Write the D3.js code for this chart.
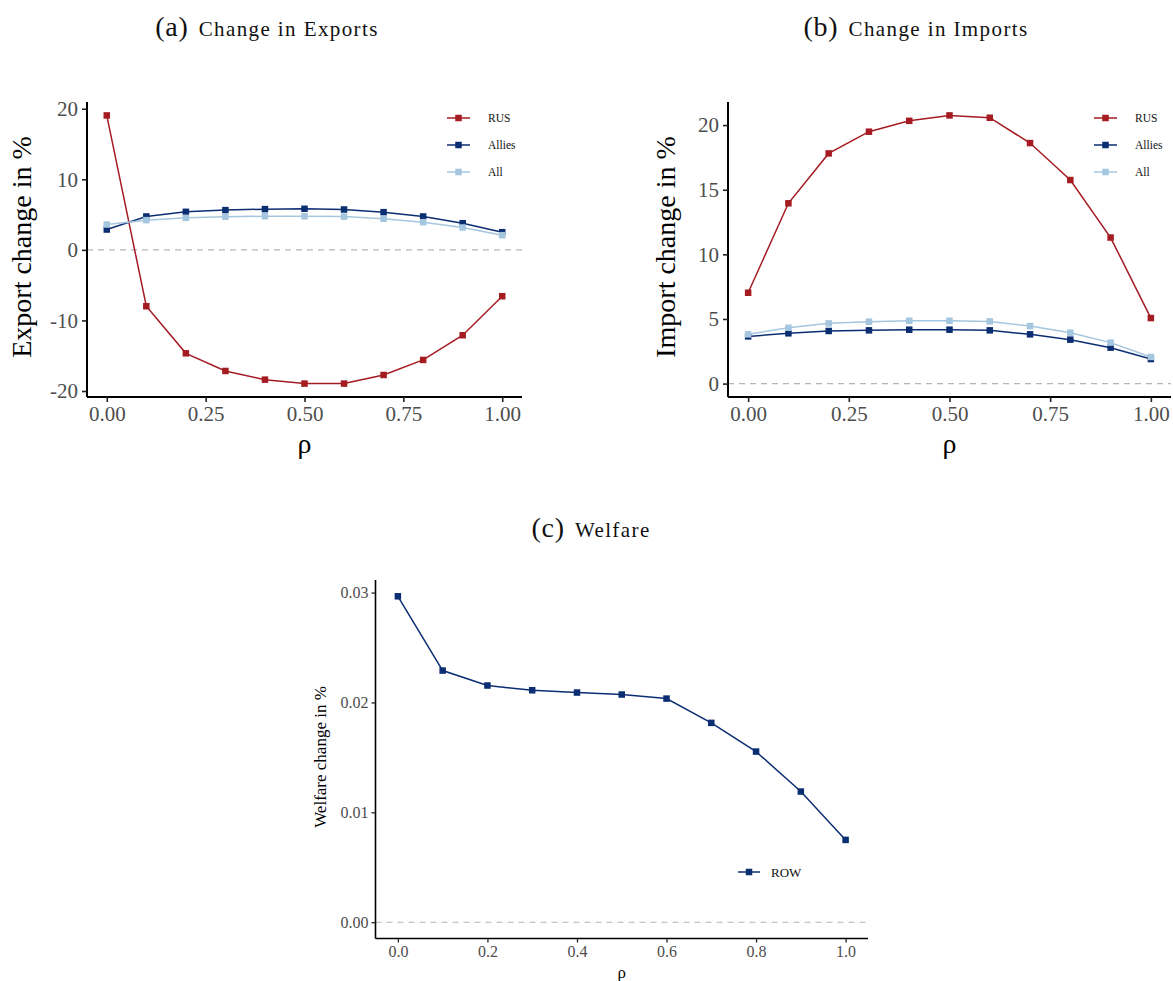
<!DOCTYPE html>
<html><head><meta charset="utf-8">
<script src="https://cdn.jsdelivr.net/npm/d3@7"></script>
<style>body{margin:0;background:#fff}svg{display:block}</style>
</head><body>
<script>
// ---- data ----
const rho = [0, 0.1, 0.2, 0.3, 0.4, 0.5, 0.6, 0.7, 0.8, 0.9, 1.0];
const seriesNames = ["RUS", "Allies", "All"];
const exportRUS = [19.05, -7.99, -14.66, -17.16, -18.39, -18.95, -18.95, -17.73, -15.6, -12.1, -6.57];
const exportAllies = [2.88, 4.73, 5.39, 5.63, 5.77, 5.82, 5.72, 5.34, 4.73, 3.78, 2.5];
const exportAll = [3.59, 4.21, 4.54, 4.7, 4.76, 4.76, 4.71, 4.4, 3.92, 3.17, 2.08];
const importRUS = [7.03, 13.95, 17.81, 19.49, 20.33, 20.75, 20.57, 18.61, 15.75, 11.3, 5.07];
const importAllies = [3.65, 3.89, 4.07, 4.12, 4.17, 4.17, 4.12, 3.81, 3.4, 2.78, 1.9];
const importAll = [3.81, 4.32, 4.66, 4.79, 4.86, 4.86, 4.81, 4.45, 3.94, 3.17, 2.06];
const welfareROW = [0.02966, 0.0229, 0.02154, 0.02111, 0.0209, 0.02072, 0.02035, 0.01814, 0.01553, 0.01189, 0.00749];
const ticksA_y = [-20, -10, 0, 10, 20];
const ticksB_y = [0, 5, 10, 15, 20];
const ticksC_y = [0, 0.01, 0.02, 0.03];
const ticksAB_x = [0, 0.25, 0.5, 0.75, 1];
const ticksC_x = [0, 0.2, 0.4, 0.6, 0.8, 1.0];

const colors = {RUS: "#a51b22", Allies: "#0b2e72", All: "#a5c6df", ROW: "#0b2e72"};
const serif = "'Liberation Serif','Times New Roman',serif";

const svg = d3.select("body").append("svg").attr("width", 1173).attr("height", 981);

function panel(o) {
  const g = svg.append("g");
  const allVals = o.series.flatMap(s => s.values).concat([0]);
  const ymin = d3.min(allVals), ymax = d3.max(allVals), yr = ymax - ymin;
  const x = d3.scaleLinear().domain([-0.05, 1.05]).range([o.left, o.right]);
  const y = d3.scaleLinear().domain([ymin - 0.05 * yr, ymax + 0.05 * yr]).range([o.bottom, o.top]);

  // zero line
  g.append("line").attr("x1", o.left).attr("x2", o.right)
    .attr("y1", y(0)).attr("y2", y(0))
    .attr("stroke", "#b5b5b5").attr("stroke-width", 1.1).attr("stroke-dasharray", "6,5");

  // series
  const line = d3.line().x((d, i) => x(rho[i])).y(d => y(d));
  o.series.forEach(s => {
    g.append("path").datum(s.values).attr("d", line)
      .attr("fill", "none").attr("stroke", colors[s.name]).attr("stroke-width", o.lw);
    g.selectAll(null).data(s.values).enter().append("rect")
      .attr("x", (d, i) => x(rho[i]) - o.ms / 2).attr("y", d => y(d) - o.ms / 2)
      .attr("width", o.ms).attr("height", o.ms).attr("fill", colors[s.name]);
  });

  // axes
  const xa = g.append("g").attr("transform", `translate(0,${o.bottom})`)
    .call(d3.axisBottom(x).tickValues(o.xticks).tickFormat(o.xfmt).tickSize(o.tick).tickSizeOuter(0).tickPadding(o.pad));
  const ya = g.append("g").attr("transform", `translate(${o.left},0)`)
    .call(d3.axisLeft(y).tickValues(o.yticks).tickFormat(o.yfmt).tickSize(o.tick).tickSizeOuter(0).tickPadding(o.pad));
  [xa, ya].forEach(a => {
    a.select(".domain").attr("stroke", "#000").attr("stroke-width", o.axw);
    a.selectAll(".tick line").attr("stroke", "#222").attr("stroke-width", o.axw * 0.8);
    a.selectAll("text").attr("font-family", serif).attr("font-size", o.tickfs).attr("fill", "#4d4d4d");
  });
  xa.select(".domain").attr("d", `M${o.left},0H${o.right}`);
  ya.select(".domain").attr("d", `M0,${o.bottom}V${o.top}`);

  // labels
  g.append("text").attr("x", (o.left + o.right) / 2).attr("y", o.xlabY)
    .attr("text-anchor", "middle").attr("font-family", serif).attr("font-size", o.labfs).text("ρ");
  g.append("text").attr("transform", `translate(${o.ylabX},${o.ylabY}) rotate(-90)`)
    .attr("text-anchor", "middle").attr("font-family", serif).attr("font-size", o.labfs).text(o.ylab);

  // title
  const t = svg.append("text").attr("x", o.titleX).attr("y", o.titleY).attr("text-anchor", "middle")
    .attr("font-family", serif).attr("fill", "#111");
  t.append("tspan").attr("font-size", 28).attr("letter-spacing", 0.8).text(o.tag);
  t.append("tspan").attr("font-size", 21).attr("dx", 10).attr("letter-spacing", 1.4).text(o.title);

  // legend
  o.series.forEach((s, i) => {
    const ly = o.legY + i * o.legGap;
    g.append("line").attr("x1", o.legX).attr("x2", o.legX + o.legW).attr("y1", ly).attr("y2", ly)
      .attr("stroke", colors[s.name]).attr("stroke-width", o.lw);
    g.append("rect").attr("x", o.legX + o.legW / 2 - o.ms / 2).attr("y", ly - o.ms / 2)
      .attr("width", o.ms).attr("height", o.ms).attr("fill", colors[s.name]);
    g.append("text").attr("x", o.legX + o.legW + o.legTx).attr("y", ly + o.legfs * 0.35)
      .attr("font-family", serif).attr("font-size", o.legfs).attr("fill", "#111").text(s.name);
  });
}

panel({
  left: 87, right: 522, top: 102, bottom: 397,
  series: [{name: "RUS", values: exportRUS}, {name: "Allies", values: exportAllies}, {name: "All", values: exportAll}],
  xticks: ticksAB_x, yticks: ticksA_y, xfmt: d3.format(".2f"), yfmt: d => String(d),
  tick: 5, pad: 4, axw: 2, tickfs: 21, labfs: 28, lw: 1.5, ms: 6.5,
  xlabY: 453, ylabX: 31, ylabY: 247, ylab: "Export change in %",
  titleX: 267, titleY: 36, tag: "(a)", title: "Change in Exports",
  legX: 447, legW: 23, legTx: 18, legY: 118, legGap: 27, legfs: 11.5
});

panel({
  left: 728, right: 1171, top: 102, bottom: 397,
  series: [{name: "RUS", values: importRUS}, {name: "Allies", values: importAllies}, {name: "All", values: importAll}],
  xticks: ticksAB_x, yticks: ticksB_y, xfmt: d3.format(".2f"), yfmt: d => String(d),
  tick: 5, pad: 4, axw: 2, tickfs: 21, labfs: 28, lw: 1.5, ms: 6.5,
  xlabY: 453, ylabX: 675, ylabY: 247, ylab: "Import change in %",
  titleX: 916, titleY: 36, tag: "(b)", title: "Change in Imports",
  legX: 1094, legW: 23, legTx: 18, legY: 118, legGap: 27, legfs: 11.5
});

panel({
  left: 375.5, right: 868, top: 580, bottom: 938.5,
  series: [{name: "ROW", values: welfareROW}],
  xticks: ticksC_x, yticks: ticksC_y, xfmt: d3.format(".1f"), yfmt: d3.format(".2f"),
  tick: 4, pad: 3, axw: 1.6, tickfs: 16, labfs: 17, lw: 1.5, ms: 6.5,
  xlabY: 978, ylabX: 326, ylabY: 757, ylab: "Welfare change in %",
  titleX: 591, titleY: 537, tag: "(c)", title: "Welfare",
  legX: 738, legW: 22, legTx: 11, legY: 872, legGap: 27, legfs: 13
});
</script>
</body></html>
